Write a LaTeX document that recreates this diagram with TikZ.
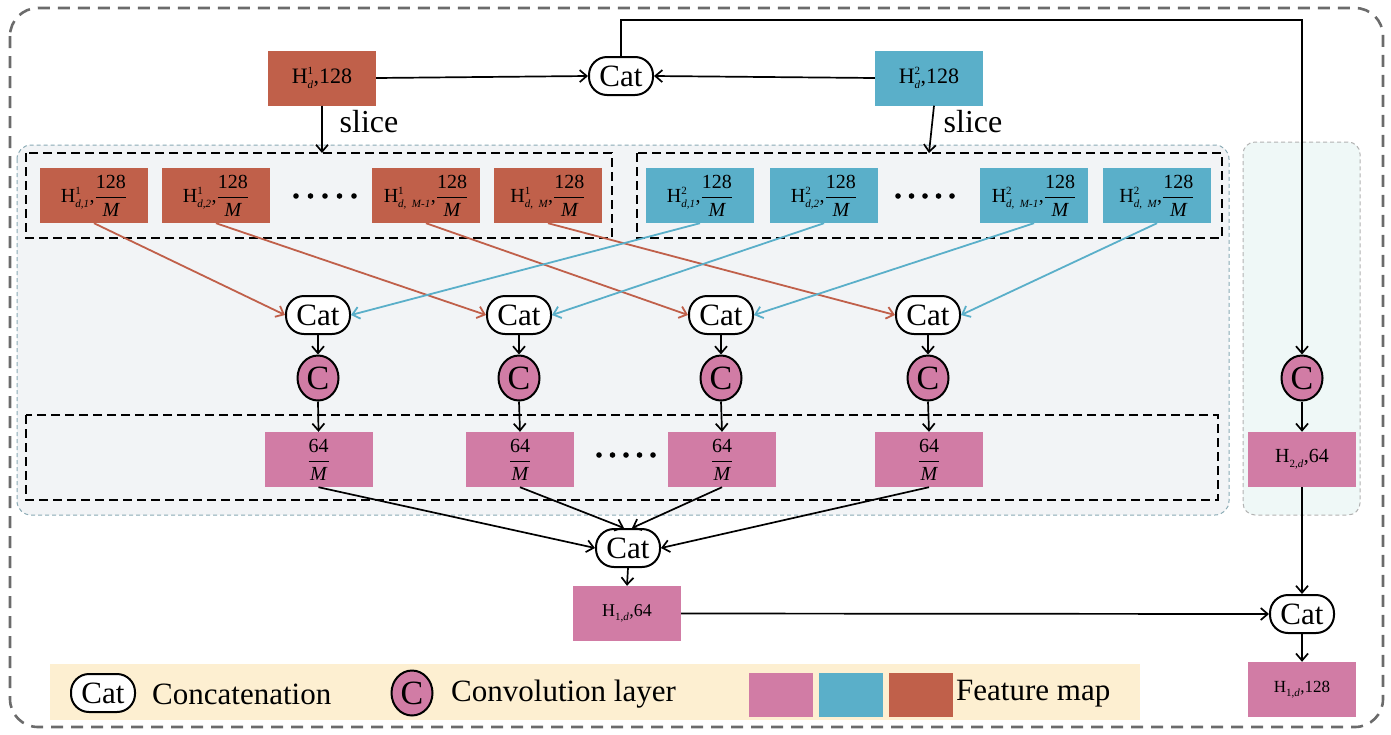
\documentclass[tikz,border=0pt]{standalone}
\usepackage{fontspec}
\setmainfont{Liberation Serif}
\usetikzlibrary{arrows.meta,shapes.geometric,calc}
\definecolor{cbrown}{HTML}{C0604A}
\definecolor{cblue}{HTML}{5AAFC9}
\definecolor{cpink}{HTML}{D17CA5}
\definecolor{cpanel}{HTML}{F2F4F6}
\definecolor{cpanelb}{HTML}{EFF8F7}
\definecolor{clegend}{HTML}{FDEFD1}
\definecolor{couter}{HTML}{6B6B6B}
\newcommand{\HH}[2]{$\hbox{H}^{\hbox{\fontsize{11}{11}\selectfont #1}}_{\hbox{\fontsize{11}{11}\selectfont #2}}$}
\newcommand{\FR}[2]{$\displaystyle\frac{\hbox{#1}}{\hbox{\itshape #2}}$}
\begin{document}
\begin{tikzpicture}[x=1pt,y=-1pt,
  >={Straight Barb[length=7pt,width=12pt]},
  feat/.style={minimum width=108pt, minimum height=55pt, inner sep=0pt, font=\fontsize{20}{22}\selectfont},
  brownbox/.style={feat, fill=cbrown},
  bluebox/.style={feat, fill=cblue},
  pinkbox/.style={feat, fill=cpink},
  catnode/.style={draw, line width=2pt, rounded corners=18pt, fill=white, minimum width=64pt, minimum height=38pt, inner sep=0pt, font=\fontsize{31}{33}\selectfont},
  conv/.style={ellipse, draw, line width=2pt, fill=cpink, minimum width=41pt, minimum height=45pt, inner sep=0pt, font=\fontsize{34}{36}\selectfont},
  blk/.style={->, line width=1.7pt},
  brarrow/.style={->, line width=1.8pt, draw=cbrown},
  blarrow/.style={->, line width=1.8pt, draw=cblue},
  blkdash/.style={draw=black, line width=2.4pt, dash pattern=on 9pt off 5pt},
  lbl/.style={font=\fontsize{31}{33}\selectfont, inner sep=0pt}
]
\useasboundingbox (0,0) rectangle (1391,734);
% outer frame and panels
\draw[couter, line width=2.6pt, dash pattern=on 12pt off 8pt, rounded corners=28pt] (10,8) rectangle (1383,727);
\draw[fill=cpanel, draw=black!35!cblue!60!white, line width=1pt, dash pattern=on 4pt off 3pt, rounded corners=14pt] (17,145) rectangle (1229,515);
\draw[fill=cpanelb, draw=black!30, line width=1pt, dash pattern=on 4pt off 3pt, rounded corners=12pt] (1243,142) rectangle (1360,515);
\draw[blkdash] (26,153) rectangle (612,238);
\draw[blkdash] (637,153) rectangle (1222,238);
\draw[blkdash] (26,415) rectangle (1218,500);
% legend bar
\fill[clegend] (50,664) rectangle (1140,720);

% top row
\node[brownbox, font=\fontsize{22}{24}\selectfont] (h1) at (322,78) {\HH{1}{\itshape d},128};
\node[catnode] (cattop) at (621,76) {Cat};
\node[bluebox, font=\fontsize{22}{24}\selectfont] (h2) at (929,78) {\HH{2}{\itshape d},128};
\coordinate (s1) at (322,153);
\coordinate (s2) at (929,153);
\draw[blk] (h1.south) -- (s1);
\draw[blk] ($(h2.south)+(5,0)$) -- (s2);
\node[lbl, font=\fontsize{32}{34}\selectfont] (sl1) at (369,122) {slice};
\node[lbl, font=\fontsize{32}{34}\selectfont] (sl2) at (973,122) {slice};
\draw[blk] (h1.east) -- (cattop.west);
\draw[blk] (h2.west) -- (cattop.east);

% slices
\node[brownbox] (b1) at (94,195.5) {\HH{1}{\itshape d,1},\FR{128}{M}};
\node[brownbox] (b2) at (216,195.5) {\HH{1}{\itshape d,2},\FR{128}{M}};
\node[brownbox] (b3) at (426,195.5) {\HH{1}{\itshape d,~~M-1},\FR{128}{M}};
\node[brownbox] (b4) at (548,195.5) {\HH{1}{\itshape d,~~M},\FR{128}{M}};
\node[bluebox] (u1) at (700,195.5) {\HH{2}{\itshape d,1},\FR{128}{M}};
\node[bluebox] (u2) at (824,195.5) {\HH{2}{\itshape d,2},\FR{128}{M}};
\node[bluebox] (u3) at (1034,195.5) {\HH{2}{\itshape d,~~M-1},\FR{128}{M}};
\node[bluebox] (u4) at (1157,195.5) {\HH{2}{\itshape d,~~M},\FR{128}{M}};
\foreach \i in {0,...,4} {
  \fill (296+14.5*\i,196) circle (2.8pt);
  \fill (898+13.5*\i,196) circle (2.8pt);
  \fill (599+13.5*\i,455) circle (2.8pt);
}

% cat row
\foreach \n/\x in {1/318,2/519,3/721,4/928} {
  \node[catnode] (c\n) at (\x,315) {Cat};
  \node[conv] (v\n) at (\x,378) {C};
  \draw[blk] (c\n.south) -- (v\n.north);
}
\node[pinkbox] (p1) at (318.5,459.5) {\FR{64}{M}};
\node[pinkbox] (p2) at (520,459.5) {\FR{64}{M}};
\node[pinkbox] (p3) at (722,459.5) {\FR{64}{M}};
\node[pinkbox] (p4) at (929,459.5) {\FR{64}{M}};
\foreach \n in {1,...,4} { \draw[blk] (v\n.south) -- (p\n.north); }

\draw[brarrow] (b1.south) -- (c1.west);
\draw[brarrow] (b2.south) -- (c2.west);
\draw[brarrow] (b3.south) -- (c3.west);
\draw[brarrow] (b4.south) -- (c4.west);
\draw[blarrow] (u1.south) -- (c1.east);
\draw[blarrow] (u2.south) -- (c2.east);
\draw[blarrow] (u3.south) -- (c3.east);
\draw[blarrow] (u4.south) -- (c4.east);

% bottom merge
\node[catnode] (cm) at (628,548) {Cat};
\draw[blk] (p1.south) -- (cm.west);
\draw[blk] (p2.south) -- ($(cm.north)+(-4,0)$);
\draw[blk] (p3.south) -- ($(cm.north)+(4,0)$);
\draw[blk] (p4.south) -- (cm.east);
\node[pinkbox, font=\fontsize{18}{20}\selectfont] (h1d) at (627,613.5) {\HH{}{1,\itshape d},64};
\draw[blk] (cm.south) -- (h1d.north);

% right branch
\node[conv] (vr) at (1302,378) {C};
\node[pinkbox] (h2d) at (1302,459.5) {\HH{}{2,\itshape d},64};
\node[catnode] (cr) at (1302,614) {Cat};
\node[pinkbox, font=\fontsize{17}{19}\selectfont] (hout) at (1302,689.5) {\HH{}{1,\itshape d},128};
\coordinate (tr) at (1302,20);
\draw[blk] (cattop.north) |- (tr) -- (vr.north);
\draw[blk] (vr.south) -- (h2d.north);
\draw[blk] (h2d.south) -- (cr.north);
\draw[blk] (h1d.east) -- (cr.west);
\draw[blk] (cr.south) -- (hout.north);

% legend
\node[catnode] (lcat) at (103,693) {Cat};
\node[lbl, anchor=west] (lt1) at (152,694) {Concatenation};
\node[conv] (lconv) at (412,693) {C};
\node[lbl, anchor=west] (lt2) at (451,694) {Convolution layer};
\node[fill=cpink, minimum width=64pt, minimum height=44pt, inner sep=0pt] (lq1) at (781,695) {};
\node[fill=cblue, minimum width=64pt, minimum height=44pt, inner sep=0pt] (lq2) at (851,695) {};
\node[fill=cbrown, minimum width=64pt, minimum height=44pt, inner sep=0pt] (lq3) at (921,695) {};
\node[lbl, anchor=west] (lt3) at (956,694) {Feature map};
\end{tikzpicture}
\end{document}
